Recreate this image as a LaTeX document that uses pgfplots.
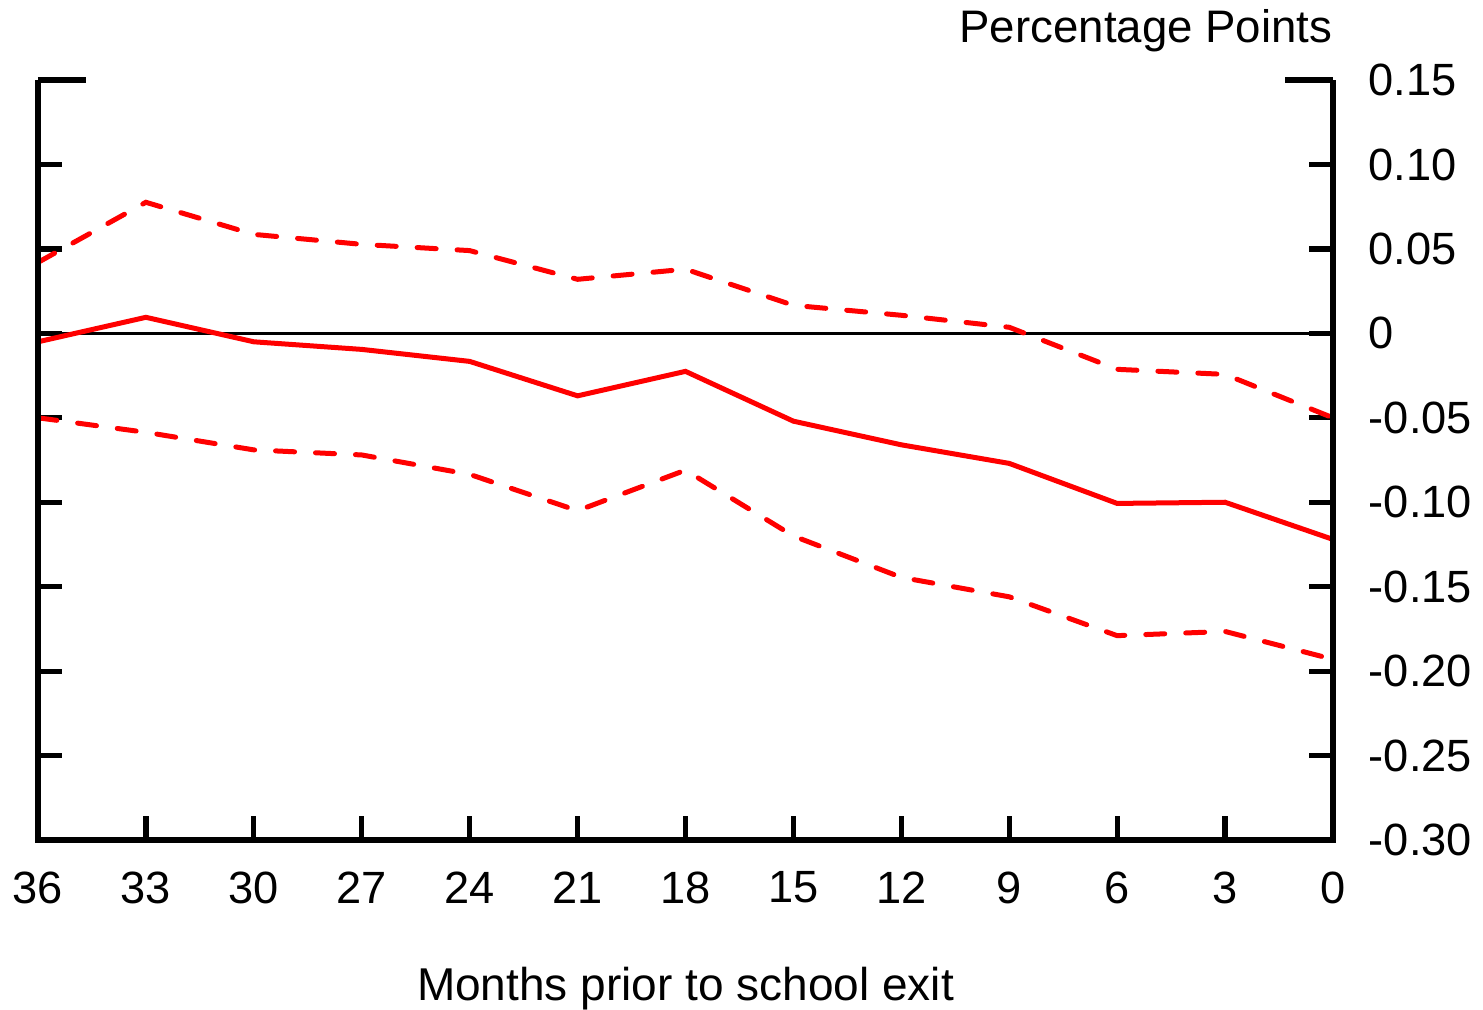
\documentclass[border=0pt]{standalone}
\usepackage{fontspec}
\setmainfont{Liberation Sans}
\usepackage{pgfplots}
\pgfplotsset{compat=1.18}
\definecolor{lred}{RGB}{255,0,0}
\begin{document}
\fontsize{11.3}{13}\selectfont
\begin{tikzpicture}
\begin{axis}[
  at={(0,0)}, anchor=south west,
  scale only axis, width=323.75pt, height=190pt,
  xmin=0, xmax=36, ymin=-0.30, ymax=0.15,
  x dir=reverse,
  axis lines=box,
  axis line style={draw=none},
  xtick={0,3,...,36},
  xticklabels={0,3,6,9,12,15,18,21,24,27,30,33,36},
  xtick pos=bottom,
  ytick={-0.30,-0.25,-0.20,-0.15,-0.10,-0.05,0,0.05,0.10},
  yticklabels={-0.30,-0.25,-0.20,-0.15,-0.10,-0.05,0,0.05,0.10},
  extra y ticks={0.15},
  extra y tick labels={0.15},
  extra y tick style={major tick length=12pt},
  ytick pos=both,
  yticklabel pos=right,
  tick align=inside,
  major tick length=6pt,
  tick style={black, line width=1.3pt},
  yticklabel style={anchor=west, xshift=5pt, font=\fontsize{11.3}{13}\selectfont},
  xticklabel style={anchor=north, yshift=-4pt, font=\fontsize{11.3}{13}\selectfont},
  clip=false,
]
\addplot[black, line width=0.6pt] coordinates {(36,0) (0,0)};
\addplot[lred, line width=1.25pt, dash pattern=on 4.75pt off 5.25pt, line cap=round] coordinates {
(36,0.042) (33,0.0776) (30,0.0586) (27,0.0527) (24,0.049) (21,0.032) (18,0.038) (15,0.0166) (12,0.0107) (9,0.0036) (6,-0.0213) (3,-0.0243) (0,-0.050)};
\addplot[lred, line width=1.25pt, dash pattern=on 4.75pt off 5.25pt, line cap=round] coordinates {
(36,-0.050) (33,-0.0586) (30,-0.069) (27,-0.072) (24,-0.0835) (21,-0.105) (18,-0.081) (15,-0.120) (12,-0.1445) (9,-0.156) (6,-0.179) (3,-0.1765) (0,-0.193)};
\addplot[lred, line width=1.25pt] coordinates {
(36,-0.005) (33,0.0095) (30,-0.005) (27,-0.0095) (24,-0.0166) (21,-0.037) (18,-0.0225) (15,-0.052) (12,-0.066) (9,-0.077) (6,-0.1007) (3,-0.100) (0,-0.122)};
\draw[black, line width=1.45pt, line join=miter] (rel axis cs:0,1) -- (rel axis cs:0,0) -- (rel axis cs:1,0) -- (rel axis cs:1,1);
\node[anchor=base east, inner sep=0pt, font=\fontsize{11.4}{13}\selectfont] at ([yshift=9.5pt]rel axis cs:1,1) {Percentage Points};
\node[anchor=base, inner sep=0pt, font=\fontsize{11.5}{13}\selectfont] at ([yshift=-40pt]rel axis cs:0.5,0) {Months prior to school exit};
\end{axis}
\pgfresetboundingbox
\path[use as bounding box] (-9.5pt,-42.25pt) rectangle (361.25pt,210pt);
\end{tikzpicture}
\end{document}
